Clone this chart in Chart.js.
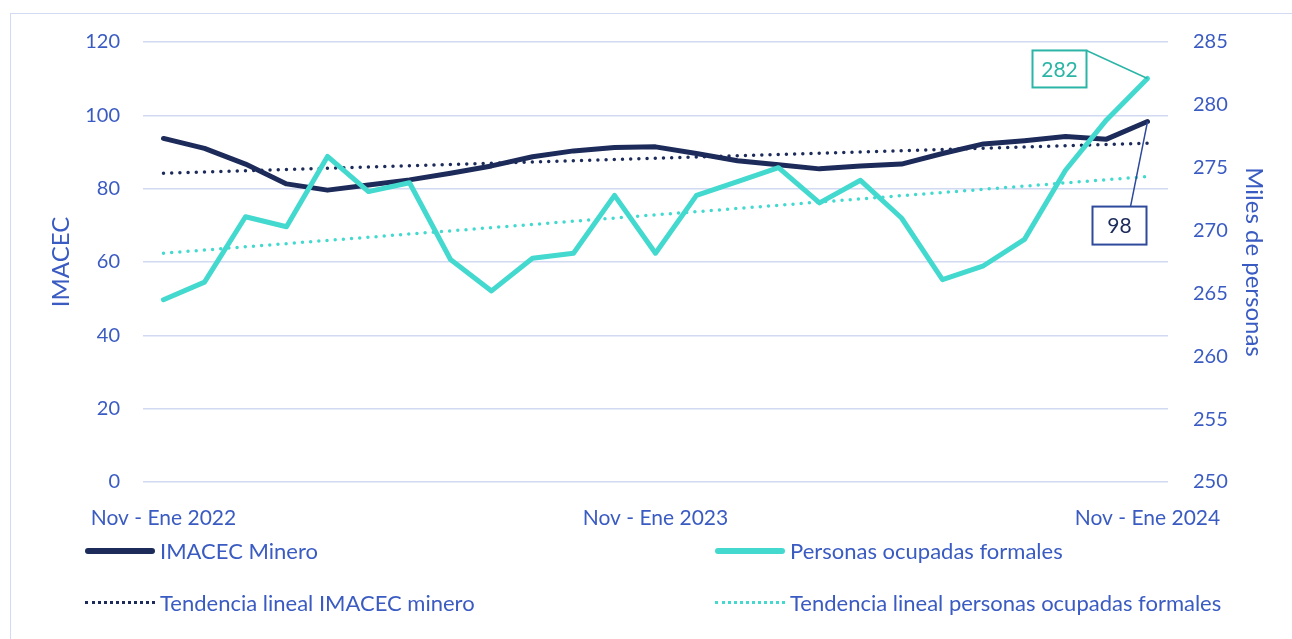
<!DOCTYPE html>
<html>
<head>
<meta charset="utf-8">
<script src="https://cdn.jsdelivr.net/npm/chart.js@4/dist/chart.umd.min.js"></script>
<style>
  body { margin: 0; background: #fff; overflow: hidden; font-family: Lato, "Open Sans", sans-serif; }
  #wrap { position: absolute; left: 0; top: 0; width: 1292px; height: 639px; }
  #frame { position: absolute; left: 10px; top: 13px; width: 1400px; height: 700px; border: 1.5px solid #d3dbf2; }
  #myChart { position: absolute; left: 0; top: 0; }
  .leg { position: absolute; color: #3a5bc2; font-size: 22px; white-space: nowrap; line-height: 26px; }
  .sw { position: absolute; width: 70px; }
</style>
</head>
<body>
<div id="wrap">
  <div id="frame"></div>
  <canvas id="myChart" width="1292" height="639"></canvas>
  <div class="sw" style="left:85px; top:548px; border-top:6px solid #1c2b5a; border-radius:3px"></div>
  <div class="leg" style="left:160px; top:538px">IMACEC Minero</div>
  <div class="sw" style="left:715px; top:548px; border-top:6px solid #43d9cf; border-radius:3px"></div>
  <div class="leg" style="left:790px; top:538px">Personas ocupadas formales</div>
  <div class="sw" style="left:85px; top:601px; border-top:3px dotted #1c2b5a"></div>
  <div class="leg" style="left:160px; top:590px">Tendencia lineal IMACEC minero</div>
  <div class="sw" style="left:715px; top:601px; border-top:3px dotted #43d9cf"></div>
  <div class="leg" style="left:790px; top:590px">Tendencia lineal personas ocupadas formales</div>
</div>
<script>
  var categorias = ["Nov - Ene 2022", "Dic - Feb 2022", "Ene - Mar 2022", "Feb - Abr 2022", "Mar - May 2022",
    "Abr - Jun 2022", "May - Jul 2022", "Jun - Ago 2022", "Jul - Sep 2022", "Ago - Oct 2022",
    "Sep - Nov 2022", "Oct - Dic 2022", "Nov - Ene 2023", "Dic - Feb 2023", "Ene - Mar 2023",
    "Feb - Abr 2023", "Mar - May 2023", "Abr - Jun 2023", "May - Jul 2023", "Jun - Ago 2023",
    "Jul - Sep 2023", "Ago - Oct 2023", "Sep - Nov 2023", "Oct - Dic 2023", "Nov - Ene 2024"];
  var imacec = [93.7, 91.0, 86.7, 81.3, 79.6, 81.0, 82.4, 84.2, 86.2, 88.7, 90.3, 91.2, 91.4,
    89.6, 87.6, 86.5, 85.4, 86.2, 86.7, 89.6, 92.2, 93.1, 94.2, 93.5, 98.3];
  var personas = [264.5, 265.9, 271.1, 270.3, 275.9, 273.1, 273.8, 267.7, 265.2, 267.8, 268.2, 272.8, 268.2,
    272.8, 273.9, 275.0, 272.2, 274.0, 271.0, 266.1, 267.2, 269.3, 274.8, 278.8, 282.1];
  // trend lines: start and end values
  var tendImacec = [84.2, 92.4];
  var tendPersonas = [268.2, 274.3];
  var ticksIzq = [0, 120, 20];
  var ticksDer = [250, 285, 5];

  var azul = "#1c2b5a";
  var turquesa = "#43d9cf";
  var texto = "#3a5bc2";

  function tendencia(ends) {
    return categorias.map(function (c, i) {
      if (i === 0) return ends[0];
      if (i === categorias.length - 1) return ends[1];
      return null;
    });
  }

  // value boxes at the last point of each series
  var etiquetas = {
    id: "etiquetas",
    afterDatasetsDraw: function (chart) {
      var ctx = chart.ctx;
      function caja(dsIndex, dx, dy, w, h, lx, ly, borde, color) {
        var meta = chart.getDatasetMeta(dsIndex);
        var pt = meta.data[meta.data.length - 1];
        var val = chart.data.datasets[dsIndex].data[meta.data.length - 1];
        var bx = pt.x + dx, by = pt.y + dy;
        ctx.save();
        ctx.strokeStyle = borde;
        ctx.lineWidth = 1.5;
        ctx.beginPath();
        ctx.moveTo(bx + lx, by + ly);
        ctx.lineTo(pt.x, pt.y);
        ctx.stroke();
        ctx.fillStyle = "#fff";
        ctx.fillRect(bx, by, w, h);
        ctx.lineWidth = 2;
        ctx.strokeRect(bx, by, w, h);
        ctx.fillStyle = color;
        ctx.font = "21px Lato";
        ctx.textAlign = "center";
        ctx.textBaseline = "middle";
        ctx.fillText(Math.round(val), bx + w / 2, by + h / 2 + 1);
        ctx.restore();
      }
      caja(1, -115, -28, 54, 37, 54, 0, "#2bb5a6", "#2bb5a6");
      caja(0, -55, 85, 54, 38, 38, 0, "#2f4a9b", azul);
    }
  };

  var chart = document.getElementById("myChart").getContext("2d");
  var chartx = new Chart(chart, {
    type: "line",
    data: {
      labels: categorias,
      datasets: [
        { label: "IMACEC Minero", data: imacec, yAxisID: "y", borderColor: azul, borderWidth: 5,
          pointRadius: 0, borderJoinStyle: "round", borderCapStyle: "round", order: 1 },
        { label: "Personas ocupadas formales", data: personas, yAxisID: "y1", borderColor: turquesa, borderWidth: 5,
          pointRadius: 0, borderJoinStyle: "round", borderCapStyle: "round", order: 0 },
        { label: "Tendencia lineal IMACEC minero", data: tendencia(tendImacec), yAxisID: "y", borderColor: azul,
          borderWidth: 3.5, borderDash: [0, 8.2], borderCapStyle: "round", pointRadius: 0, spanGaps: true, order: 2 },
        { label: "Tendencia lineal personas ocupadas formales", data: tendencia(tendPersonas), yAxisID: "y1",
          borderColor: turquesa, borderWidth: 3.5, borderDash: [0, 8.2], borderCapStyle: "round", pointRadius: 0,
          spanGaps: true, order: 3 }
      ]
    },
    options: {
      responsive: false,
      animation: false,
      layout: { padding: { left: 0, right: 0, top: 42, bottom: 107 } },
      plugins: { legend: { display: false }, tooltip: { enabled: false } },
      scales: {
        x: {
          offset: true,
          grid: { display: false },
          border: { display: false },
          afterFit: function (s) { s.height = 50; },
          ticks: {
            autoSkip: false, maxRotation: 0, padding: 16, color: texto,
            font: { family: "Lato", size: 21 },
            callback: function (v, i) { return i % 12 === 0 ? categorias[i] : ""; }
          }
        },
        y: {
          position: "left", min: ticksIzq[0], max: ticksIzq[1],
          afterFit: function (s) { s.width = 143; },
          grid: { color: "#d2daf1", lineWidth: 1.5, drawTicks: false },
          border: { display: false },
          ticks: { stepSize: ticksIzq[2], padding: 23, color: texto, font: { family: "Lato", size: 20 } },
          title: { display: true, text: "IMACEC", color: texto, font: { family: "Lato", size: 24 }, padding: { top: 47 } }
        },
        y1: {
          position: "right", min: ticksDer[0], max: ticksDer[1],
          afterFit: function (s) { s.width = 124; },
          grid: { display: false, drawTicks: false },
          border: { display: false },
          ticks: { stepSize: ticksDer[2], padding: 25, color: texto, font: { family: "Lato", size: 20 } },
          title: { display: true, text: "Miles de personas", color: texto, font: { family: "Lato", size: 24 }, padding: { top: 24 } }
        }
      }
    },
    plugins: [etiquetas]
  });
</script>
</body>
</html>
